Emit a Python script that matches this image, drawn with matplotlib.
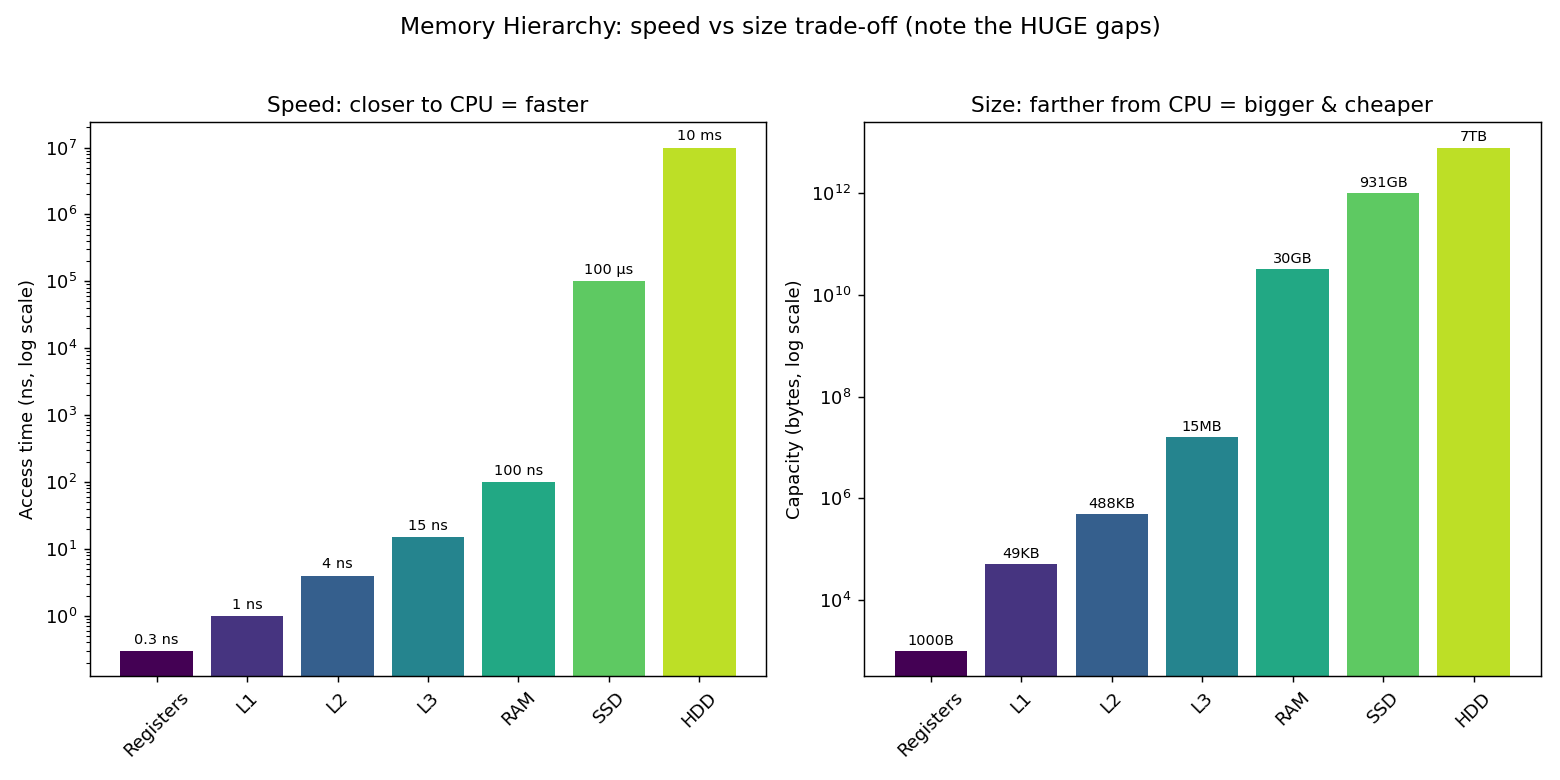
import numpy as np
import matplotlib
matplotlib.use('Agg')
import matplotlib.pyplot as plt

# memory levels, fastest to slowest
levels = ['Registers', 'L1', 'L2', 'L3', 'RAM', 'SSD', 'HDD']
access_ns = [0.3, 1, 4, 15, 100, 1e5, 1e7]
access_labels = ['0.3 ns', '1 ns', '4 ns', '15 ns', '100 ns', '100 µs', '10 ms']
size_bytes = [1000, 5e4, 5e5, 1.6e7, 3.2e10, 1e12, 8e12]
size_labels = ['1000B', '49KB', '488KB', '15MB', '30GB', '931GB', '7TB']

colors = plt.cm.viridis(np.linspace(0, 0.9, len(levels)))

fig, (ax1, ax2) = plt.subplots(1, 2, figsize=(12, 6), dpi=130)

# speed panel
ax1.bar(levels, access_ns, color=colors)
ax1.set_yscale('log')
ax1.set_ylabel('Access time (ns, log scale)')
ax1.set_title('Speed: closer to CPU = faster')
for i, v in enumerate(access_ns):
    ax1.text(i, v * 1.15, access_labels[i], ha='center', va='bottom', fontsize=8)
ax1.tick_params(axis='x', rotation=45)

# size panel
ax2.bar(levels, size_bytes, color=colors)
ax2.set_yscale('log')
ax2.set_ylabel('Capacity (bytes, log scale)')
ax2.set_title('Size: farther from CPU = bigger & cheaper')
for i, v in enumerate(size_bytes):
    ax2.text(i, v * 1.15, size_labels[i], ha='center', va='bottom', fontsize=8)
ax2.tick_params(axis='x', rotation=45)

fig.suptitle('Memory Hierarchy: speed vs size trade-off (note the HUGE gaps)', fontsize=13)
plt.tight_layout(rect=[0, 0, 1, 0.957])
plt.savefig('out.png')
